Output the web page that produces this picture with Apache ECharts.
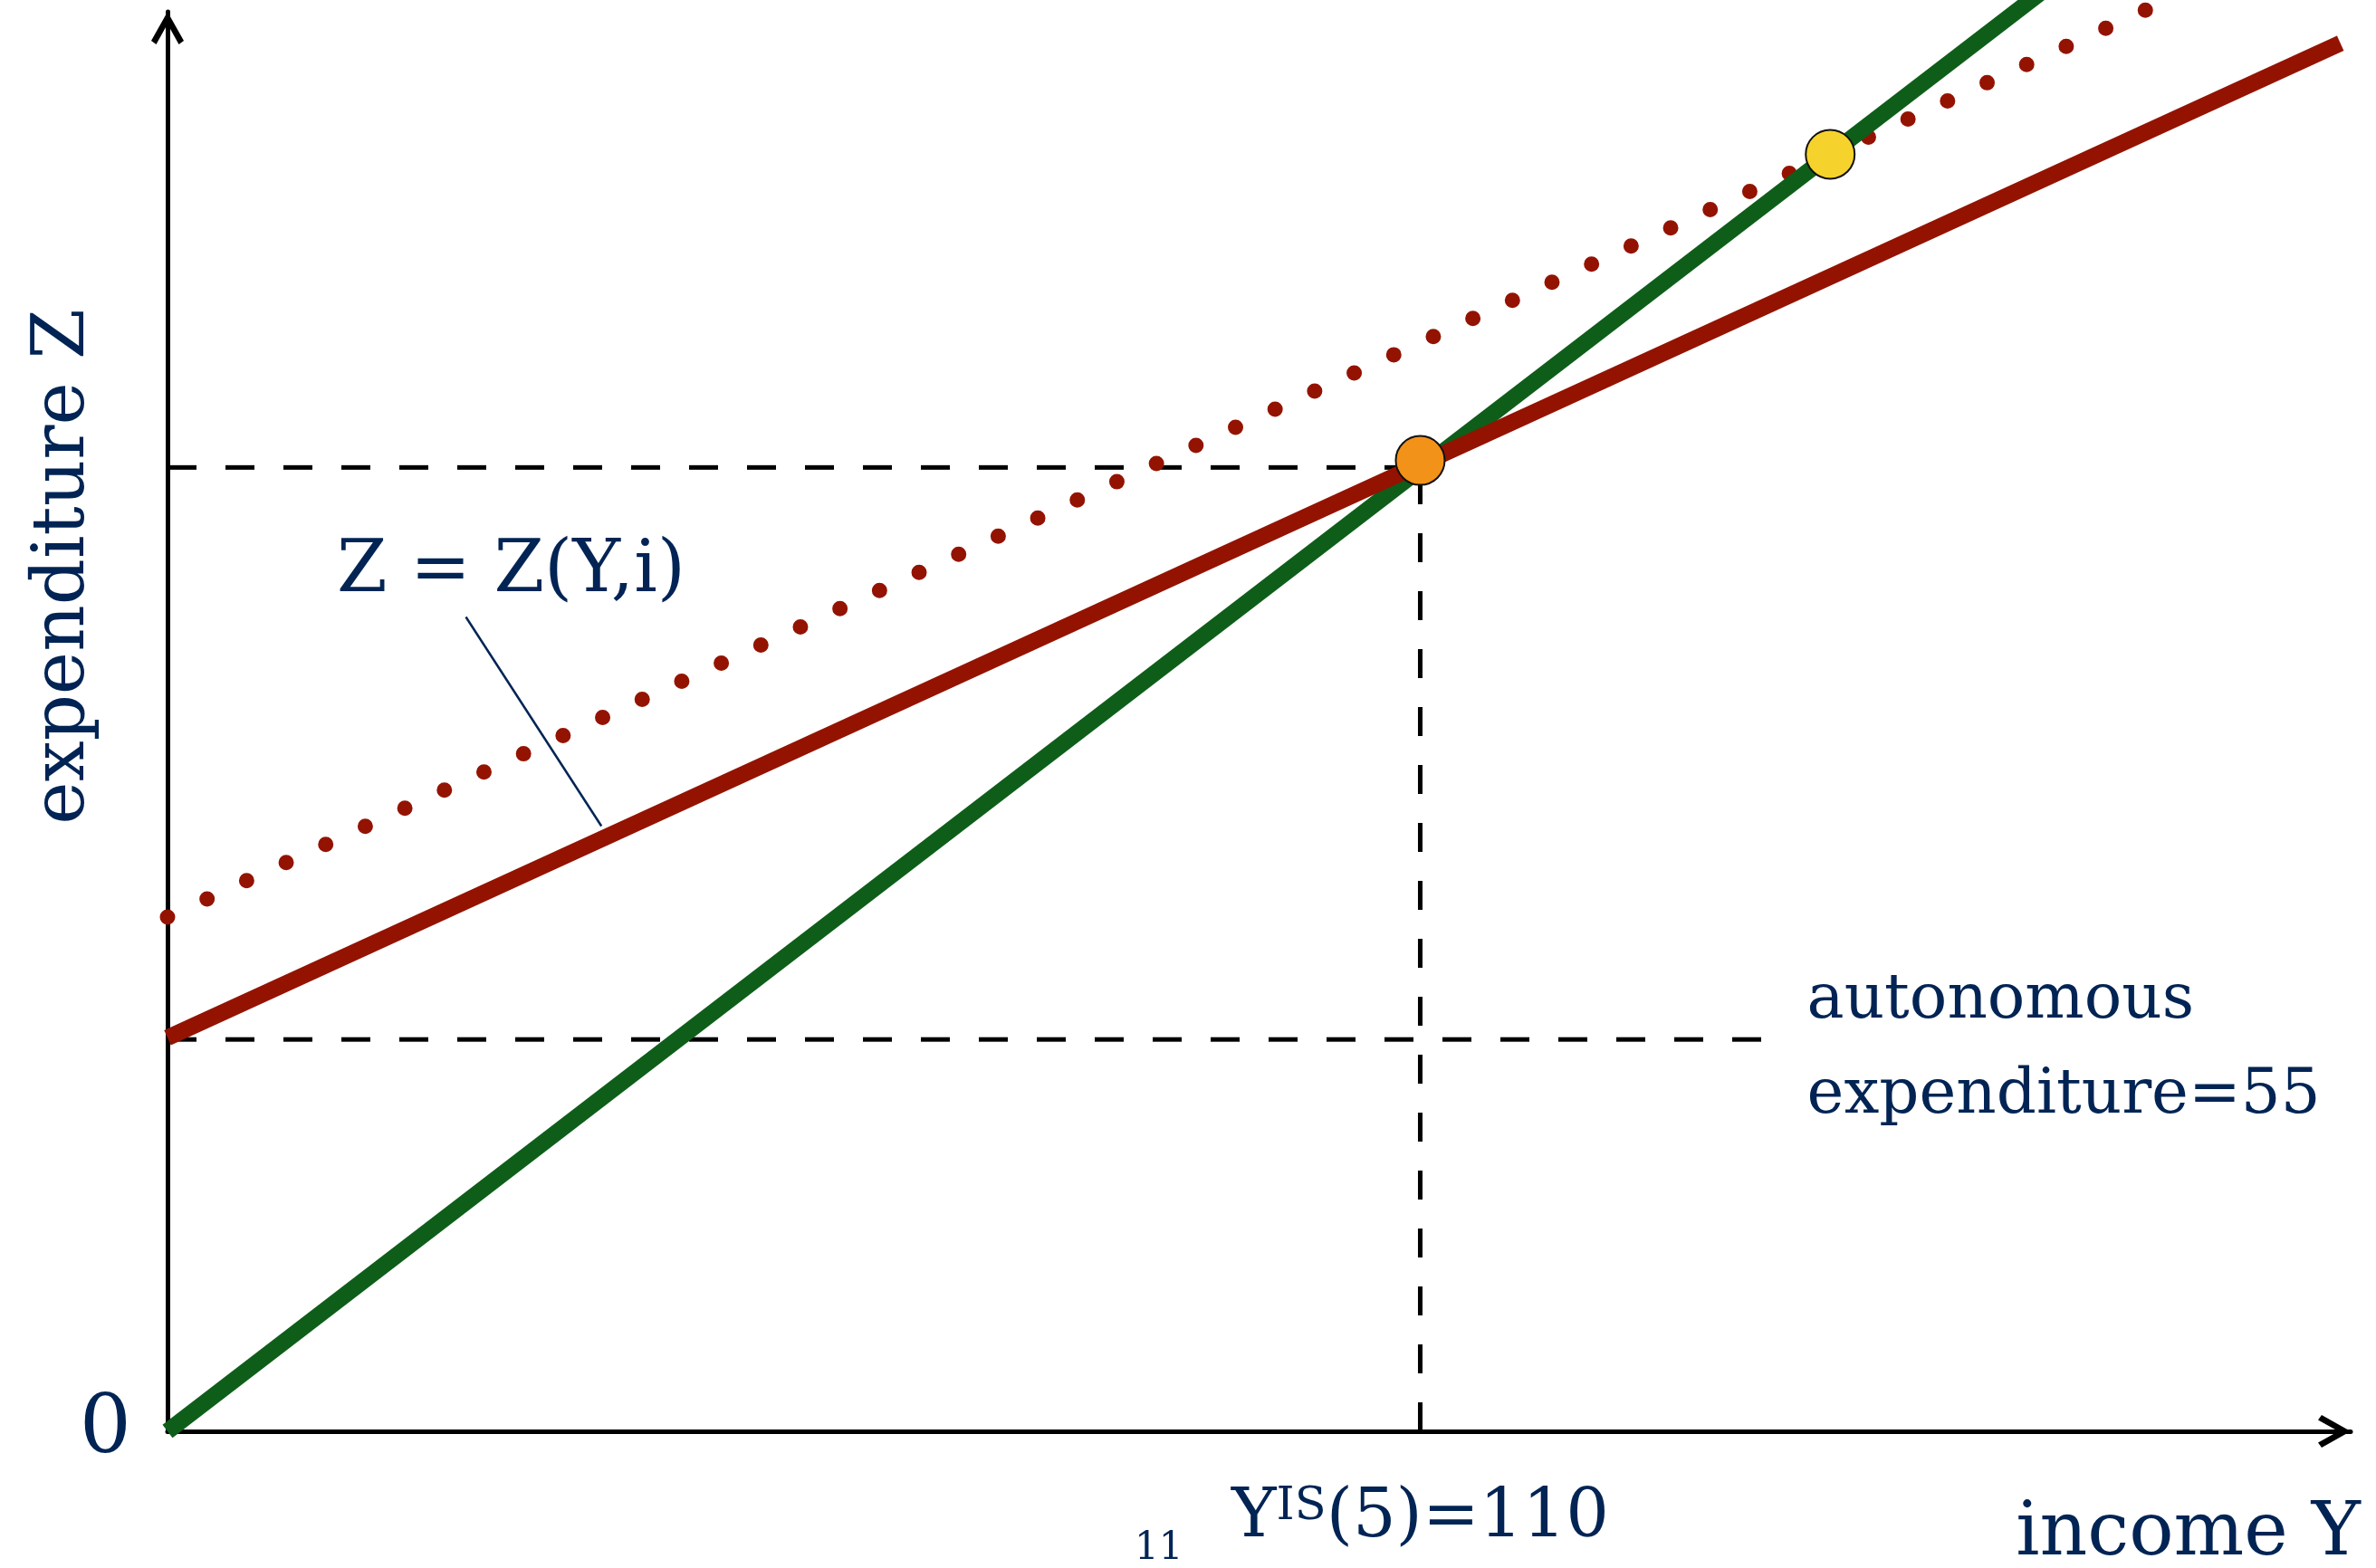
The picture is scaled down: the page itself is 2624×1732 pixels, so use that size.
<!DOCTYPE html>
<html>
<head>
<meta charset="utf-8">
<script src="https://cdn.jsdelivr.net/npm/echarts@6/dist/echarts.min.js"></script>
<style>
  html, body { margin: 0; padding: 0; background: #ffffff; }
  #chart { width: 2624px; height: 1732px; }
</style>
</head>
<body>
<div id="chart"></div>
<script>
// ---- data ----
const xRange = [0, 191.7];          // income Y axis extent
const yRange = [0, 162.3];          // expenditure Z axis extent
const line45 = [[0, 0], [175, 175]];                 // Z = Y (green)
const zLine = [[0, 45], [190.8, 158.7]];             // Z = Z(Y,i) (red)
const zLineShifted = [[0, 58.8], [200, 178.2]];      // shifted Z line (dotted)
const eqPoint = [[110, 111]];                        // orange equilibrium
const newEqPoint = [[146, 146]];                     // yellow equilibrium
const eqHGuide = [[0, 110.2], [110, 110.2]];
const eqVGuide = [[110, 0], [110, 110.2]];
const autoGuide = [[0, 44.8], [140.3, 44.8]];
const leader = [[26.2, 93.1], [38.1, 69.2]];
const xTickValues = [110];
const yTickValues = [0];
const xTickLabel = '{m|Y}{s|IS}{m|(5)=110}';
const yTickLabel = '0';
const xName = 'income Y';
const yName = 'expenditure Z';
const curveLabel = 'Z = Z(Y,i)';
const autoLabel = 'autonomous\nexpenditure=55';
const pageNo = '11';

const NAVY = '#012454';
const RED = '#931300';
const GREEN = '#0E5E1A';
const FONT = '"DejaVu Serif", serif';
const CHEVRON = 'path://M18,0 L36,32 L30.5,36 L18,13.5 L5.5,36 L0,32 Z';

const chart = echarts.init(document.getElementById('chart'), null, { renderer: 'canvas' });

const dashed = (data) => ({
  type: 'line', data, symbol: 'none', silent: true, z: 1,
  lineStyle: { color: '#000', width: 5, type: [32, 32] }
});

const axisLineStyle = {
  show: true, onZero: false, lineStyle: { color: '#000', width: 5 },
  symbol: ['none', CHEVRON], symbolSize: [36, 36], symbolOffset: [0, -18]
};

chart.setOption({
  animation: false,
  backgroundColor: '#ffffff',
  grid: { left: 185, right: 28, top: 13, bottom: 151, containLabel: false, outerBoundsMode: 'none' },
  xAxis: {
    type: 'value', min: xRange[0], max: xRange[1],
    splitLine: { show: false },
    axisTick: { show: false },
    axisLine: axisLineStyle,
    axisLabel: {
      customValues: xTickValues,
      formatter: () => xTickLabel,
      margin: 58,
      rich: {
        m: { fontFamily: FONT, fontSize: 75, color: NAVY, lineHeight: 78 },
        s: { fontFamily: FONT, fontSize: 51, color: NAVY, verticalAlign: 'top', lineHeight: 52 }
      }
    },
    name: xName, nameLocation: 'end', nameGap: 11, nameMoveOverlap: false,
    nameTextStyle: { fontFamily: FONT, fontSize: 82, color: NAVY, align: 'right', verticalAlign: 'top', padding: [74, 0, 0, 0] }
  },
  yAxis: {
    type: 'value', min: yRange[0], max: yRange[1],
    splitLine: { show: false },
    axisTick: { show: false },
    axisLine: axisLineStyle,
    axisLabel: {
      customValues: yTickValues,
      formatter: () => yTickLabel,
      margin: 40,
      fontFamily: FONT, fontSize: 90, color: NAVY,
      padding: [37, 0, 0, 0]
    },
    name: yName, nameLocation: 'middle', nameRotate: 90, nameGap: 74, nameMoveOverlap: false,
    nameTextStyle: { fontFamily: FONT, fontSize: 80, color: NAVY, padding: [0, 0, 0, 342] }
  },
  graphic: [
    { type: 'text', left: 1253, top: 1690, silent: true,
      style: { text: pageNo, font: '42px ' + FONT, fill: NAVY } }
  ],
  series: [
    dashed(autoGuide),
    dashed(eqHGuide),
    dashed(eqVGuide),
    { type: 'line', data: leader, symbol: 'none', silent: true, z: 2,
      lineStyle: { color: NAVY, width: 2.5 } },
    { type: 'line', data: zLineShifted, symbol: 'none', clip: false, silent: true, z: 3,
      lineStyle: { color: RED, width: 17, type: [0, 48.06], cap: 'round' } },
    { type: 'line', data: line45, symbol: 'none', clip: false, silent: true, z: 4,
      lineStyle: { color: GREEN, width: 18 } },
    { type: 'line', data: zLine, symbol: 'none', clip: false, silent: true, z: 5,
      lineStyle: { color: RED, width: 18 } },
    { type: 'scatter', data: eqPoint, symbolSize: 54, z: 10, silent: true,
      itemStyle: { color: '#F39219', borderColor: '#111', borderWidth: 2, opacity: 1 } },
    { type: 'scatter', data: newEqPoint, symbolSize: 54, z: 10, silent: true,
      itemStyle: { color: '#F6D32C', borderColor: '#111', borderWidth: 2, opacity: 1 } },
    { type: 'scatter', data: [leader[0]], symbolSize: 0, z: 11, silent: true,
      itemStyle: { opacity: 1 },
      label: { show: true, position: 'top', distance: 9, offset: [50, 0], formatter: curveLabel,
        fontFamily: FONT, fontSize: 80, color: NAVY, opacity: 1, lineHeight: 80 } },
    { type: 'scatter', data: [autoGuide[1]], symbolSize: 0, z: 11, silent: true,
      itemStyle: { opacity: 1 },
      label: { show: true, position: 'right', distance: 46, offset: [0, 10], formatter: autoLabel,
        fontFamily: FONT, fontSize: 69, color: NAVY, opacity: 1, lineHeight: 105, align: 'left' } }
  ]
});
</script>
</body>
</html>
